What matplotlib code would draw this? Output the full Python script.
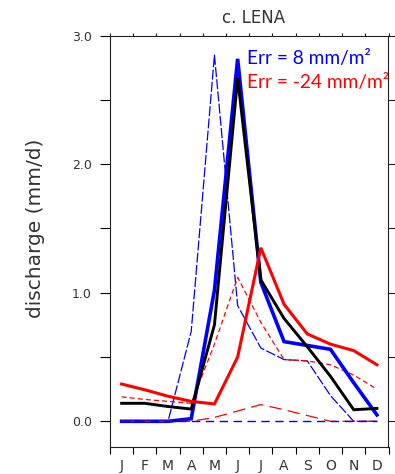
import numpy as np
import matplotlib
matplotlib.use('Agg')
import matplotlib.pyplot as plt
from matplotlib.ticker import NullFormatter

# ---- data ----
months = ['J', 'F', 'M', 'A', 'M', 'J', 'J', 'A', 'S', 'O', 'N', 'D']
obs_black = [0.14, 0.14, 0.115, 0.095, 0.75, 2.67, 1.10, 0.80, 0.58, 0.35, 0.09, 0.10]
blue_thick = [0.0, 0.0, 0.0, 0.02, 1.02, 2.82, 1.08, 0.62, 0.59, 0.56, 0.30, 0.05]
red_thick = [0.29, 0.245, 0.195, 0.155, 0.135, 0.50, 1.35, 0.91, 0.68, 0.60, 0.55, 0.44]
blue_dash = [0.0, 0.0, 0.0, 0.70, 2.85, 0.90, 0.57, 0.48, 0.47, 0.20, 0.0, 0.0]
red_dash = [0.19, 0.17, 0.155, 0.14, 0.60, 1.12, 0.77, 0.48, 0.47, 0.44, 0.36, 0.25]
red_low = [0.0, 0.0, 0.0, 0.0, 0.03, 0.08, 0.13, 0.09, 0.045, 0.0, 0.0, 0.0]
blue_low = [0.0] * 12
yticks = [0.0, 1.0, 2.0, 3.0]
ytick_labels = ['0.0', '1.0', '2.0', '3.0']
title = 'c. LENA'
ylabel = 'discharge (mm/d)'
err_blue = 'Err = 8 mm/m\u00b2'
err_red = 'Err = -24 mm/m\u00b2'

W, H = 395, 474
fig = plt.figure(figsize=(W / 100, H / 100), dpi=100)
L, R, T, B = 110, 388.5, 35.7, 447
ax = fig.add_axes([L / W, 1 - B / H, (R - L) / W, (B - T) / H])

x = np.arange(1, 13)
blue = '#0000ff'
red = '#ff0000'

ax.plot(x, blue_dash, color=blue, lw=0.9, dashes=(8, 1.8), zorder=2)
ax.plot(x, red_dash, color=red, lw=0.9, dashes=(4, 2.5), zorder=2)
ax.plot(x, blue_thick, color=blue, lw=2.6, zorder=3, solid_joinstyle='miter')
ax.plot(x, obs_black, color='black', lw=2.1, zorder=4, solid_joinstyle='miter')
ax.plot(x, red_thick, color=red, lw=2.2, zorder=5, solid_joinstyle='miter')
ax.plot(x, red_low, color=red, lw=0.9, dashes=(10, 5), zorder=6)
ax.plot(x, blue_low, color=blue, lw=1.0, dashes=(6, 4), zorder=6)

ax.set_xlim(0.5, 12.5)
ax.set_ylim(-0.2, 3.0)

tc = '#333333'
ax.set_xticks(x)
ax.set_xticklabels(months)
ax.set_xticks(np.arange(0.5, 13.0, 1.0), minor=True)
ax.tick_params(axis='x', which='major', length=0, pad=8.5, labelsize=10, labelcolor=tc)
ax.tick_params(axis='x', which='minor', length=5, width=0.8, direction='out', top=False, bottom=True)

ax.set_yticks(yticks)
ax.set_yticklabels(ytick_labels)
ax.set_yticks([0.5, 1.5, 2.5], minor=True)
ax.tick_params(axis='y', which='both', length=7.2, width=0.8, direction='out', right=False,
               pad=5.8, labelsize=9, labelcolor=tc)

for s in ax.spines.values():
    s.set_linewidth(0.8)
    s.set_color('#222222')

# right-side ticks (shorter) on an invisible twin
ax_r = ax.twinx()
ax_r.set_ylim(ax.get_ylim())
ax_r.set_yticks([0, 0.5, 1.0, 1.5, 2.0, 2.5, 3.0])
ax_r.yaxis.set_major_formatter(NullFormatter())
ax_r.tick_params(axis='y', length=5, width=0.8, direction='out', color='#222222')
for s in ax_r.spines.values():
    s.set_visible(False)

# top ticks (very short) on an invisible twin
ax_t = ax.twiny()
ax_t.set_xlim(ax.get_xlim())
ax_t.set_xticks(np.arange(0.5, 13.0, 1.0))
ax_t.xaxis.set_major_formatter(NullFormatter())
ax_t.tick_params(axis='x', length=2, width=0.8, direction='out', color='#222222')
for s in ax_t.spines.values():
    s.set_visible(False)

fig.text(254 / W, 1 - 18 / H, title, ha='center', va='center', fontsize=12, color=tc)
fig.text(36 / W, 1 - 228 / H, ylabel, ha='center', va='center', rotation=90,
         fontsize=14.5, color=tc)

fig.text(247 / W, 1 - 64.3 / H, err_blue, ha='left', va='baseline', fontsize=13.8,
         color=blue, family=['Lato', 'DejaVu Sans'])
fig.text(247 / W, 1 - 87.7 / H, err_red, ha='left', va='baseline', fontsize=13.8,
         color=red, family=['Lato', 'DejaVu Sans'])

fig.savefig('out.png', dpi=100)
